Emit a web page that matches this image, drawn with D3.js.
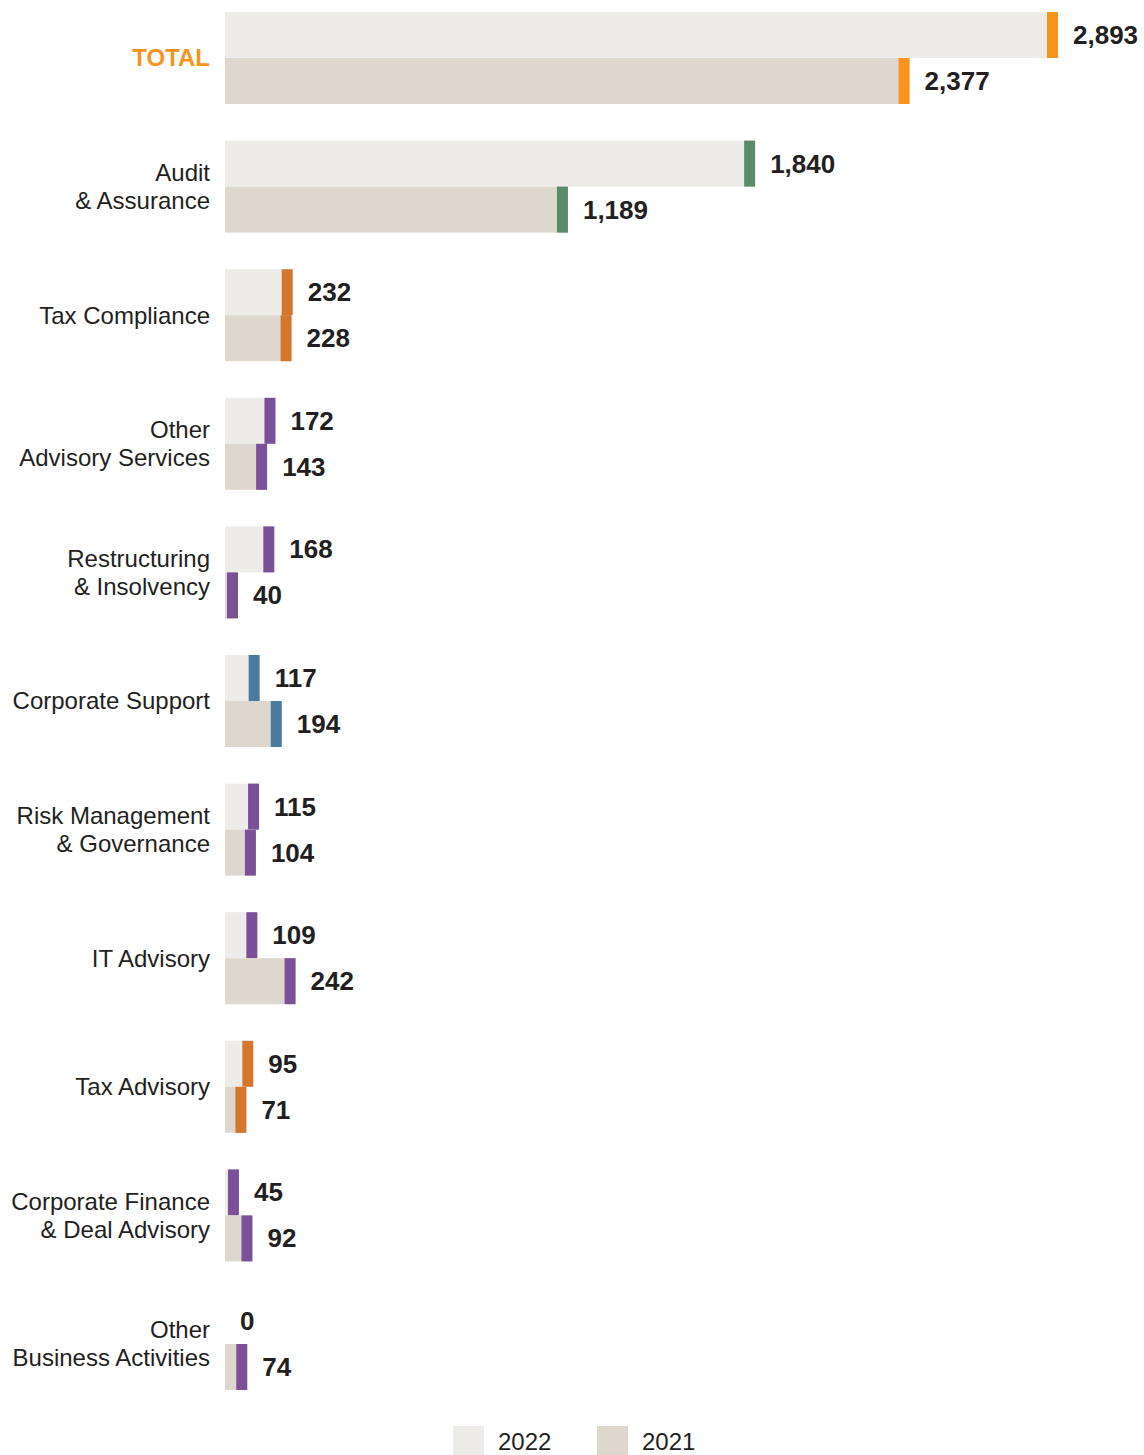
<!DOCTYPE html>
<html>
<head>
<meta charset="utf-8">
<script src="https://cdn.jsdelivr.net/npm/d3@7"></script>
<style>
  html, body { margin: 0; padding: 0; background: #ffffff; }
  svg { display: block; }
</style>
</head>
<body>
<div id="chart"></div>
<script>
// Revenue by service line, 2022 vs 2021
const categories = [
  ["TOTAL"],
  ["Audit", "& Assurance"],
  ["Tax Compliance"],
  ["Other", "Advisory Services"],
  ["Restructuring", "& Insolvency"],
  ["Corporate Support"],
  ["Risk Management", "& Governance"],
  ["IT Advisory"],
  ["Tax Advisory"],
  ["Corporate Finance", "& Deal Advisory"],
  ["Other", "Business Activities"]
];
const values2022 = [2893, 1840, 232, 172, 168, 117, 115, 109, 95, 45, 0];
const values2021 = [2377, 1189, 228, 143, 40, 194, 104, 242, 71, 92, 74];
const capColors = ["#f7941d", "#5a8a68", "#d5762d", "#7b5099", "#7b5099", "#4a7b9d",
                   "#7b5099", "#7b5099", "#d5762d", "#7b5099", "#7b5099"];
const seriesNames = ["2022", "2021"];
const seriesFills = ["#eeece8", "#ded7ce"];

const W = 1144, H = 1455;
const svg = d3.select("#chart").append("svg").attr("width", W).attr("height", H);

const x0 = 225;
const x = d3.scaleLinear().domain([0, 2893]).range([x0, 1057]);
const groups = d3.range(categories.length);
const y = d3.scaleBand().domain(groups).range([12, 12 + 128.6 * categories.length]).paddingInner(0);
const barH = 46;
const capW = 11;
const font = "'Liberation Sans', Arial, sans-serif";
const textColor = "#231f20";

const rows = groups.map(i => ({
  i,
  label: categories[i],
  vals: [values2022[i], values2021[i]],
  cap: capColors[i]
}));

const g = svg.append("g");
const grp = g.selectAll("g.grp").data(rows).join("g").attr("class", "grp")
  .attr("transform", d => `translate(0,${y(d.i)})`);

// Category labels
grp.append("text")
  .attr("x", 210)
  .attr("text-anchor", "end")
  .attr("font-family", font)
  .attr("font-size", 24)
  .attr("font-weight", d => d.i === 0 ? "bold" : "normal")
  .attr("fill", d => d.i === 0 ? "#f7941d" : textColor)
  .each(function(d) {
    const t = d3.select(this);
    const n = d.label.length;
    const lh = 28;
    d.label.forEach((line, k) => {
      t.append("tspan")
        .attr("x", 210)
        .attr("y", barH + (k - (n - 1) / 2) * lh)
        .attr("dy", "0.35em")
        .text(line);
    });
  });

// Bars, caps and value labels for both years
const bars = grp.selectAll("g.bar").data(d => d.vals.map((v, s) => ({ v, s, cap: d.cap })))
  .join("g").attr("class", "bar")
  .attr("transform", d => `translate(0,${d.s * barH})`);

bars.append("rect")
  .attr("x", x0)
  .attr("y", 0)
  .attr("width", d => x(d.v) - x0)
  .attr("height", barH)
  .attr("fill", d => seriesFills[d.s]);

bars.filter(d => d.v > 0).append("rect")
  .attr("x", d => Math.max(x0 + 2, x(d.v) + 1 - capW))
  .attr("y", 0)
  .attr("width", capW)
  .attr("height", barH)
  .attr("fill", d => d.cap);

bars.append("text")
  .attr("x", d => (d.v > 0 ? Math.max(x0 + 2 + capW, x(d.v) + 1) : x0) + 15)
  .attr("y", barH / 2)
  .attr("dy", "0.35em")
  .attr("font-family", font)
  .attr("font-size", 26)
  .attr("font-weight", "bold")
  .attr("fill", textColor)
  .text(d => d3.format(",")(d.v));

// Legend
const legend = svg.append("g").selectAll("g").data(seriesNames).join("g")
  .attr("transform", (d, i) => `translate(${453 + i * 144},1426)`);
legend.append("rect").attr("width", 31).attr("height", 31)
  .attr("fill", (d, i) => seriesFills[i]);
legend.append("text")
  .attr("x", 45).attr("y", 16).attr("dy", "0.35em")
  .attr("font-family", font).attr("font-size", 24).attr("fill", textColor)
  .text(d => d);
</script>
</body>
</html>
